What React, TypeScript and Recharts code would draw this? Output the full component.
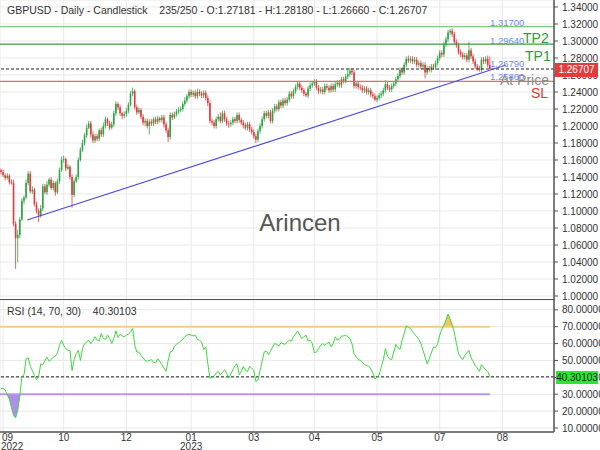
import { ComposedChart, Bar, Line, Area, XAxis, YAxis, CartesianGrid, ReferenceLine } from "recharts";

const FONT = "'Liberation Sans', Arial, sans-serif";

// daily closes, Sep 2022 -> Jul 2023 (235 bars)
const firstOpen = 1.148;
const closes = [
  1.146, 1.142, 1.139, 1.1415, 1.134, 1.133, 1.085, 1.068, 1.072, 1.09,
  1.112, 1.116, 1.133, 1.144, 1.123, 1.125, 1.108, 1.1, 1.095, 1.103,
  1.129, 1.122, 1.131, 1.137, 1.127, 1.133, 1.122, 1.135, 1.148, 1.16,
  1.161, 1.15, 1.152, 1.14, 1.119, 1.135, 1.14, 1.16, 1.172, 1.18,
  1.189, 1.198, 1.203, 1.19, 1.183, 1.188, 1.185, 1.195, 1.19, 1.2,
  1.208, 1.203, 1.198, 1.202, 1.215, 1.226, 1.222, 1.215, 1.212, 1.214,
  1.218, 1.225, 1.238, 1.241, 1.222, 1.216, 1.219, 1.211, 1.204, 1.206,
  1.2, 1.205, 1.203, 1.208, 1.205, 1.209, 1.207, 1.21, 1.202, 1.195,
  1.187, 1.213, 1.21, 1.214, 1.217, 1.219, 1.22, 1.226, 1.23, 1.235,
  1.24, 1.237, 1.239, 1.235, 1.24, 1.238, 1.236, 1.239, 1.233, 1.227,
  1.206, 1.204, 1.2, 1.208, 1.211, 1.206, 1.215, 1.208, 1.203, 1.202,
  1.204, 1.208, 1.206, 1.213, 1.207, 1.204, 1.201, 1.198, 1.202, 1.196,
  1.193, 1.188, 1.184, 1.194, 1.2, 1.208, 1.215, 1.212, 1.216, 1.206,
  1.218, 1.223, 1.22, 1.228, 1.224, 1.23, 1.227, 1.231, 1.238, 1.235,
  1.241, 1.246, 1.25, 1.245, 1.242, 1.238, 1.236, 1.244, 1.248, 1.25,
  1.252, 1.245, 1.241, 1.243, 1.24, 1.247, 1.245, 1.242, 1.247, 1.243,
  1.249, 1.251, 1.248, 1.255, 1.253, 1.258, 1.261, 1.265, 1.263, 1.247,
  1.25, 1.246, 1.245, 1.242, 1.244, 1.24, 1.242, 1.237, 1.235, 1.231,
  1.233, 1.236, 1.238, 1.242, 1.249, 1.245, 1.243, 1.247, 1.25, 1.255,
  1.259, 1.266, 1.263, 1.272, 1.279, 1.277, 1.279, 1.276, 1.278, 1.272,
  1.274, 1.27, 1.272, 1.263, 1.268, 1.266, 1.27, 1.269, 1.274, 1.28,
  1.286, 1.284, 1.296, 1.302, 1.31, 1.312, 1.308, 1.299, 1.295, 1.287,
  1.284, 1.281, 1.283, 1.278, 1.289, 1.282, 1.276, 1.27, 1.268, 1.266,
  1.278, 1.276, 1.279, 1.27181, 1.26707,
];

// wick lengths above / below the body, in thousandths
const upWick = [
  2, 3, 2, 3, 2, 3, 4, 3, 6, 3,
  3, 2, 4, 3, 3, 4, 2, 3, 3, 4,
  3, 3, 4, 2, 3, 3, 2, 3, 3, 4,
  4, 2, 3, 2, 3, 3, 3, 3, 3, 4,
  3, 4, 3, 3, 4, 3, 3, 2, 3, 4,
  3, 2, 3, 3, 3, 3, 2, 3, 2, 3,
  3, 3, 3, 4, 2, 3, 3, 2, 3, 3,
  3, 3, 3, 2, 3, 3, 2, 3, 3, 3,
  3, 3, 3, 3, 3, 3, 3, 3, 4, 3,
  3, 3, 3, 3, 4, 3, 3, 3, 3, 3,
  3, 3, 3, 3, 3, 5, 3, 3, 3, 3,
  3, 3, 3, 3, 3, 3, 3, 3, 3, 3,
  3, 3, 3, 3, 3, 3, 3, 3, 3, 3,
  3, 3, 3, 3, 3, 3, 3, 3, 3, 3,
  3, 3, 3, 3, 3, 3, 2, 3, 3, 3,
  3, 3, 3, 3, 3, 3, 3, 3, 3, 3,
  3, 3, 3, 3, 3, 3, 6, 3, 3, 3,
  3, 3, 3, 3, 3, 3, 3, 3, 3, 3,
  3, 3, 3, 3, 5, 3, 3, 3, 3, 3,
  3, 3, 3, 3, 3, 4, 3, 3, 3, 3,
  3, 3, 3, 3, 3, 3, 3, 3, 3, 3,
  3, 3, 3, 3, 3, 2, 3, 3, 3, 3,
  3, 3, 3, 3, 10, 3, 3, 3, 3, 3,
  3, 3, 3, 4, 10,
];
const downWick = [
  3, 2, 3, 2, 3, 2, 3, 36, 28, 4,
  2, 4, 2, 3, 2, 3, 3, 3, 8, 3,
  3, 2, 3, 3, 2, 3, 4, 2, 3, 2,
  3, 3, 2, 3, 15, 3, 2, 3, 2, 3,
  3, 3, 2, 4, 3, 3, 3, 3, 3, 3,
  3, 3, 3, 2, 3, 3, 3, 3, 4, 3,
  3, 3, 2, 3, 3, 3, 2, 3, 3, 4,
  3, 10, 3, 3, 3, 3, 3, 3, 4, 3,
  6, 3, 3, 2, 3, 3, 3, 3, 3, 3,
  3, 3, 3, 3, 3, 3, 3, 3, 3, 4,
  3, 3, 3, 3, 3, 3, 3, 3, 3, 4,
  3, 3, 3, 3, 3, 3, 4, 3, 3, 3,
  3, 3, 4, 3, 3, 3, 3, 3, 3, 3,
  3, 3, 3, 3, 3, 3, 3, 3, 3, 3,
  3, 3, 3, 3, 3, 3, 2, 3, 3, 3,
  3, 3, 3, 3, 3, 3, 3, 3, 3, 3,
  3, 3, 3, 3, 3, 3, 3, 3, 3, 3,
  3, 3, 3, 3, 3, 3, 3, 3, 3, 2,
  3, 3, 3, 3, 3, 3, 3, 3, 3, 3,
  3, 3, 3, 3, 3, 3, 3, 3, 3, 3,
  3, 3, 3, 7, 3, 3, 3, 3, 3, 3,
  3, 3, 3, 3, 3, 3, 3, 3, 3, 3,
  3, 3, 3, 3, 3, 3, 3, 3, 3, 2,
  3, 3, 3, 3, 0.5,
];

const rsiValues = [
  33.5, 33.5, 32.5, 29.5, 27, 22, 17.5, 16, 20.5, 29,
  40.5, 41.5, 51, 51.5, 46.5, 44, 41, 38.5, 40.5, 48,
  47.5, 50, 52, 49.5, 50.5, 52, 52.5, 54.5, 59, 62,
  59, 57, 56, 56, 44, 50.5, 54, 56, 50, 57,
  60, 61, 62, 60, 61.5, 64, 62, 61.5, 66, 63,
  62.5, 65, 63, 60, 63, 67.5, 63.5, 65.5, 64.5, 64,
  65, 65.5, 67, 69, 59, 55, 55, 53, 51.5, 50,
  49.5, 50, 50.5, 49, 48.5, 51, 49.5, 47.5, 45.5, 43.5,
  50, 55, 55.5, 58.5, 59.5, 60.5, 61.5, 62.5, 64, 65,
  65.5, 65, 64.5, 65, 62.5, 62, 61, 56.5, 58, 48,
  39.5, 40, 40.5, 42.5, 43.5, 41.5, 43, 44.5, 42.5, 39.5,
  42, 44.5, 47, 48, 41.5, 43.5, 46.5, 44, 43.5, 46.5,
  45.5, 44, 37.5, 38.5, 44, 49.5, 55, 55.5, 53.5, 55.5,
  58, 60, 59.5, 58.5, 60.5, 60, 59.5, 61, 62, 61.5,
  64, 65.5, 67.5, 65, 63, 64, 65, 61.5, 62, 60,
  54.5, 55, 57, 59, 60, 59, 60, 61, 58, 60,
  64, 62, 62.5, 64.5, 64.5, 65, 64, 63, 60, 54,
  52, 50.5, 50, 49, 47.5, 47, 46.5, 45, 42.5, 39,
  40, 41.5, 46, 50.5, 57, 52.5, 51, 50.5, 55, 59.5,
  57.5, 56.5, 62, 66, 70.5, 69.5, 69, 67, 65.5, 64,
  62.5, 60, 56, 52, 48, 51, 54.5, 58, 57.5, 60,
  65, 68.5, 71, 74, 77.5, 74.5, 71, 66.5, 60, 54,
  52, 50.5, 53, 54.5, 56, 51.5, 49.5, 47, 45.5, 43.5,
  47.5, 46, 44.5, 43.5, 40.30103,
];

const monthTicks = [1, 30, 60, 91, 121, 150, 180, 210, 240];
const monthLabels = ["09", "10", "12", "01", "03", "04", "05", "07", "08"];
const yearLabels = ["2022", "", "", "2023", "", "", "", "", ""];
const priceTicks = [1.0, 1.02, 1.04, 1.06, 1.08, 1.1, 1.12, 1.14, 1.16, 1.18, 1.2, 1.22, 1.24, 1.26, 1.28, 1.3, 1.32, 1.34];
const rsiTicks = [10, 20, 30, 40, 50, 60, 70, 80];

const tp2 = 1.317;
const tp1 = 1.2964;
const stopLoss = 1.2525;
const lastClose = 1.26707;
const lastRsi = 40.30103;
const trendStart = { x: 12.5, y: 1.0894 };
const trendEnd = { x: 241.7, y: 1.2718 };

const candles = closes.map((close, i) => {
  const open = i === 0 ? firstOpen : closes[i - 1];
  const high = Math.max(open, close) + upWick[i] / 1000;
  const low = Math.min(open, close) - downWick[i] / 1000;
  const rsi = rsiValues[i];
  return {
    i, open, high, low, close, rsi,
    range: [low, high],
    over: [70, Math.max(70, rsi)],
    under: [Math.min(30, rsi), 30],
  };
});

const xDomain = [-0.5, 264.7];

function Candle(props: any) {
  const { x, y, width, height, payload } = props;
  const { open, close, high, low } = payload;
  const cx = x + width / 2;
  const k = high === low ? 0 : height / (high - low);
  const yO = y + (high - open) * k;
  const yC = y + (high - close) * k;
  const color = Math.abs(close - open) < 0.0005 ? "#9a9a9a" : close >= open ? "#2ca443" : "#e03a3e";
  return (
    <g>
      <line x1={cx} x2={cx} y1={y} y2={y + height} stroke={color} strokeWidth={0.8} />
      <rect x={cx - 0.8} y={Math.min(yO, yC)} width={1.6} height={Math.max(Math.abs(yC - yO), 0.8)} fill={color} />
    </g>
  );
}

function MonthTick(props: any) {
  const { x, y, payload } = props;
  const k = monthTicks.indexOf(payload.value);
  const first = k === 0;
  return (
    <g>
      <text x={first ? x + 4.5 : x} y={y + 1} textAnchor="middle" fontSize={10} fill="#333" fontFamily={FONT}>
        {monthLabels[k]}
      </text>
      {yearLabels[k] && (
        <text x={first ? x + 9 : x} y={y + 9.5} textAnchor="middle" fontSize={10} fill="#333" fontFamily={FONT}>
          {yearLabels[k]}
        </text>
      )}
    </g>
  );
}

function Txt({ left, top, size, color, children }: any) {
  return (
    <div style={{ position: "absolute", left, top, fontSize: size, color, lineHeight: `${size + 2}px`, whiteSpace: "pre", pointerEvents: "none" }}>
      {children}
    </div>
  );
}

export default function App() {
  const tickStyle = { fontSize: 10, fill: "#333", fontFamily: FONT };
  return (
    <div style={{ position: "absolute", left: 0, top: 0, width: 600, height: 450, background: "#fff", fontFamily: FONT, overflow: "hidden" }}>
      <div style={{ position: "absolute", left: 0, top: 0 }}>
        <ComposedChart width={600} height={300} data={candles} margin={{ top: 0, right: 0, bottom: 0, left: 0 }}>
          <CartesianGrid stroke="#e8e8e8" />
          <XAxis dataKey="i" type="number" domain={xDomain} ticks={monthTicks} allowDataOverflow hide />
          <YAxis
            orientation="right"
            width={46}
            domain={[0.995294, 1.348235]}
            ticks={priceTicks}
            allowDataOverflow
            interval={0}
            tickFormatter={(v: number) => v.toFixed(5)}
            tick={tickStyle}
            tickSize={4}
            tickMargin={4}
            axisLine={{ stroke: "#555", strokeWidth: 1.5 }}
            tickLine={{ stroke: "#555" }}
          />
          <ReferenceLine y={tp2} stroke="#7cc97c" strokeWidth={1.2} />
          <ReferenceLine y={tp1} stroke="#3b9e3b" strokeWidth={1.2} />
          <ReferenceLine y={stopLoss} stroke="#e36a6a" strokeWidth={1.2} />
          <ReferenceLine y={lastClose} stroke="#222" strokeDasharray="3 2" />
          <Bar dataKey="range" barSize={2} shape={<Candle />} isAnimationActive={false} />
          <ReferenceLine segment={[trendStart, trendEnd]} stroke="#4b4bdc" strokeWidth={1.2} />
        </ComposedChart>
      </div>
      <div style={{ position: "absolute", left: 0, top: 299, width: 555, height: 1, background: "#555" }} />
      <div style={{ position: "absolute", left: 0, top: 300 }}>
        <ComposedChart width={600} height={150} data={candles} margin={{ top: 0, right: 0, bottom: 0, left: 0 }}>
          <CartesianGrid stroke="#e8e8e8" />
          <XAxis
            dataKey="i"
            type="number"
            domain={xDomain}
            ticks={monthTicks}
            allowDataOverflow
            interval={0}
            height={18}
            tick={<MonthTick />}
            tickLine={false}
            axisLine={{ stroke: "#555", strokeWidth: 1.5 }}
          />
          <YAxis
            orientation="right"
            width={46}
            domain={[7.63, 85.8]}
            ticks={rsiTicks}
            allowDataOverflow
            interval={0}
            tickFormatter={(v: number) => v.toFixed(5)}
            tick={tickStyle}
            tickSize={4}
            tickMargin={4}
            axisLine={{ stroke: "#555", strokeWidth: 1.5 }}
            tickLine={{ stroke: "#555" }}
          />
          <Area dataKey="over" stroke="none" fill="#f2c14e" fillOpacity={0.9} isAnimationActive={false} />
          <Area dataKey="under" stroke="none" fill="#a27ae8" fillOpacity={0.85} isAnimationActive={false} />
          <ReferenceLine segment={[{ x: -0.5, y: 70 }, { x: 234, y: 70 }]} stroke="#f5cd84" strokeWidth={2} />
          <ReferenceLine segment={[{ x: -0.5, y: 30 }, { x: 234, y: 30 }]} stroke="#bb94f2" strokeWidth={2} />
          <ReferenceLine y={lastRsi} stroke="#222" strokeDasharray="3 2" />
          <Line dataKey="rsi" stroke="#3ed83e" strokeWidth={1} dot={false} isAnimationActive={false} />
        </ComposedChart>
      </div>

      <Txt left={7} top={4} size={10.5} color="#333">{"GBPUSD - Daily - Candlestick    235/250 - O:1.27181 - H:1.28180 - L:1.26660 - C:1.26707"}</Txt>
      <Txt left={490} top={17} size={9.5} color="#6d8bf2">1.31700</Txt>
      <Txt left={490} top={35} size={9.5} color="#6d8bf2">1.29640</Txt>
      <Txt left={490} top={58} size={9.5} color="#6d8bf2">1.26790</Txt>
      <Txt left={490} top={71} size={9.5} color="#6d8bf2">1.25860</Txt>
      <Txt left={523} top={30} size={14} color="#2f9a2f">TP2</Txt>
      <Txt left={525} top={48} size={14} color="#2f9a2f">TP1</Txt>
      <Txt left={500} top={72} size={14} color="#8c8c8c">At Price</Txt>
      <Txt left={531} top={85} size={14} color="#e23434">SL</Txt>
      <div style={{ position: "absolute", left: 0, top: 209, width: 600, textAlign: "center", fontSize: 24, color: "#555", pointerEvents: "none" }}>Arincen</div>
      <div style={{ position: "absolute", left: 555, top: 63, width: 43, height: 14, background: "#e43b3b", color: "#fff", fontSize: 10, lineHeight: "14px", textAlign: "center" }}>1.26707</div>
      <div style={{ position: "absolute", left: 556, top: 371, width: 42, height: 13, background: "#2be82b", color: "#123", fontSize: 10, lineHeight: "13px", textAlign: "center" }}>40.30103</div>
      <Txt left={7} top={305} size={10.5} color="#333">{"RSI (14, 70, 30)    40.30103"}</Txt>
    </div>
  );
}
